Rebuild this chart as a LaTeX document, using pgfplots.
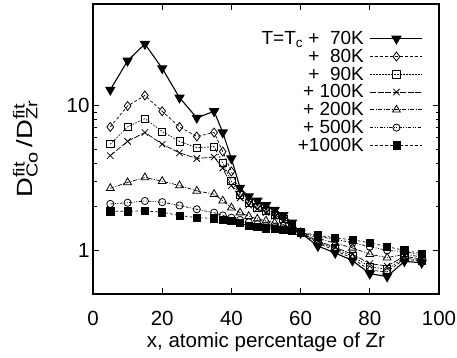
\documentclass[border=0pt]{standalone}
\usepackage{pgfplots}
\pgfplotsset{compat=1.18}
\usepackage{pgfplotstable}
\usepackage{graphicx}
\usepackage{fontspec}
\setmainfont{Liberation Sans}
\pgfplotstableread{
x    a     b     c     d     e     f     g
5    12.8  7.1   5.4   4.5   2.68  2.09  1.86
10   20.3  9.9   7.1   5.65  2.94  2.13  1.86
15   26.5  11.7  8.1   6.5   3.18  2.19  1.87
20   18.0  9.1   6.6   5.4   3.0   2.15  1.83
25   11.3  7.1   5.65  4.7   2.8   2.04  1.74
30   8.2   6.1   5.1   4.3   2.57  1.92  1.68
35   9.1   6.5   5.2   4.4   2.44  1.82  1.66
37.5 6.5   4.8   4.0   3.7   2.2   1.74  1.63
40   4.3   3.5   3.0   2.8   1.97  1.68  1.60
42.5 2.7   2.5   2.4   2.3   1.82  1.62  1.54
45   2.35  2.2   2.12  2.05  1.72  1.56  1.48
47.5 2.2   2.05  1.98  1.93  1.65  1.52  1.45
50   2.05  1.92  1.86  1.82  1.6   1.48  1.42
52.5 1.9   1.8   1.75  1.72  1.55  1.45  1.40
55   1.75  1.68  1.64  1.6   1.5   1.42  1.38
57.5 1.55  1.5   1.48  1.46  1.42  1.38  1.36
60   1.32  1.32  1.32  1.32  1.33  1.33  1.33
65   1.07  1.12  1.14  1.16  1.21  1.25  1.27
70   0.96  1.0   1.03  1.05  1.12  1.19  1.22
75   0.85  0.88  0.91  0.94  1.04  1.13  1.18
80   0.69  0.73  0.77  0.81  0.94  1.06  1.13
85   0.66  0.71  0.74  0.78  0.89  1.0   1.06
90   0.84  0.87  0.89  0.91  0.94  0.98  1.0
95   0.82  0.84  0.85  0.87  0.90  0.93  0.95
}\data
\newcommand{\sm}[1]{\mbox{\fontsize{13.5}{13.5}\selectfont #1}}
\newcommand{\sml}[1]{\mbox{\fontsize{16}{16}\selectfont #1}}
\begin{document}
\begin{tikzpicture}
\begin{axis}[
  scale only axis, width=346pt, height=290pt,
  xmin=0, xmax=100, ymin=0.5, ymax=50, ymode=log,
  xtick={0,20,...,100}, ytick={1,10}, yticklabels={1,10},
  /pgf/number format/assume math mode=true,
  font=\fontsize{20.5}{24}\selectfont,
  tick align=inside, major tick length=6pt, minor tick length=3.5pt,
  axis line style={line width=1.5pt},
  tick style={line width=0.9pt, black},
  xticklabel style={yshift=-14pt},
  xlabel={x, atomic percentage of Zr},
  xlabel style={yshift=0pt},
  ylabel={\scalebox{1.25}[1]{\fontsize{22}{24}\selectfont D$^{\sml{fit}}_{\sml{Co}}$\,/D$^{\sml{fit}}_{\sml{Zr}}$}},
  ylabel shift=22pt,
  legend style={at={(rel axis cs:0.963,0.92)}, anchor=north east, draw=none, fill=none,
    font=\fontsize{19}{21}\selectfont, row sep=-1pt, cells={anchor=east},
    /tikz/every odd column/.append style={column sep=4pt}},
  legend plot pos=right,
  legend image code/.code={\draw[#1, mark repeat=2, mark phase=2] plot coordinates {(0pt,0pt) (26pt,0pt) (52pt,0pt)};},
  every axis plot/.append style={black},
]
\addplot[line width=1.1pt, mark=triangle*, mark size=5pt, mark options={rotate=180,solid}] table[x=x,y=a]{\data};
\addlegendentry{T=T$_{\sm{c}}$ + \ 70K}
\addplot[line width=0.7pt, dash pattern=on 3pt off 2pt, mark=diamond, mark size=4.5pt, mark options={solid, line width=0.8pt}] table[x=x,y=b]{\data};
\addlegendentry{+ \ 80K}
\addplot[line width=0.7pt, dash pattern=on 1.5pt off 1.5pt, mark=square, mark size=3.6pt, mark options={solid, line width=0.8pt}] table[x=x,y=c]{\data};
\addlegendentry{+ \ 90K}
\addplot[line width=0.7pt, dash pattern=on 6pt off 1.5pt, mark=x, mark size=4.5pt, mark options={solid, line width=0.8pt}] table[x=x,y=d]{\data};
\addlegendentry{+ 100K}
\addplot[line width=0.7pt, dash pattern=on 4pt off 1.5pt on 1pt off 1.5pt, mark=triangle, mark size=4.5pt, mark options={solid, line width=0.8pt}] table[x=x,y=e]{\data};
\addlegendentry{+ 200K}
\addplot[line width=0.7pt, dash pattern=on 3pt off 1.5pt on 1pt off 1.5pt on 1pt off 1.5pt, mark=o, mark size=3.6pt, mark options={solid, line width=0.8pt}] table[x=x,y=f]{\data};
\addlegendentry{+ 500K}
\addplot[line width=0.7pt, dash pattern=on 2.5pt off 2.5pt, mark=square*, mark size=3.6pt, mark options={solid}] table[x=x,y=g]{\data};
\addlegendentry{+1000K}
\end{axis}
\pgfresetboundingbox
\path (current axis.south west) ++(-93pt,-64pt) rectangle ([shift={(18pt,4pt)}]current axis.north east);
\end{tikzpicture}
\end{document}
